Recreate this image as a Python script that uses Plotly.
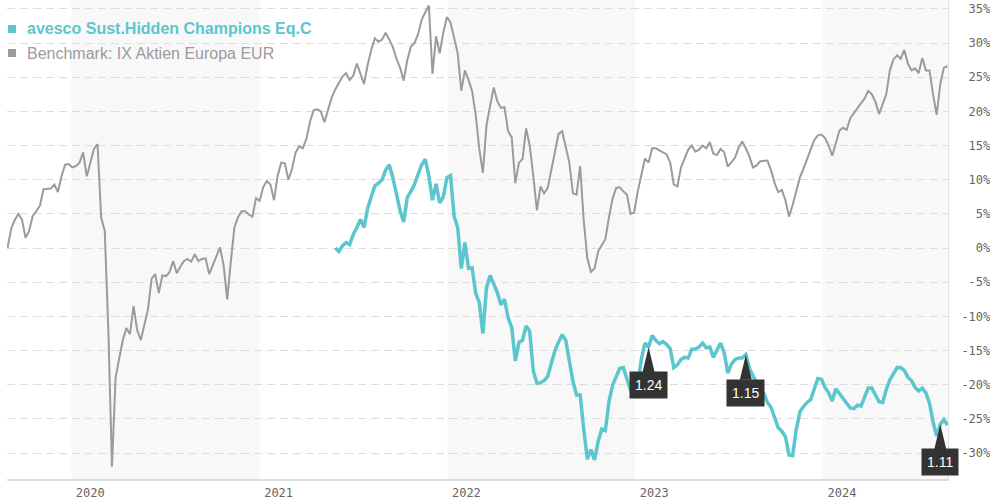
import plotly.graph_objects as go
import pandas as pd

# ---------------- data (weekly, % performance) ----------------
bench_start = "2019-08-30"
benchmark = [
    0, 2.8, 4.1, 5, 4.2, 1.5, 2.5, 4.7, 5.4, 6.2,
    8.6, 8.6, 8.7, 9.3, 8.2, 10.5, 12.2, 12.3, 11.8, 12,
    12.5, 14, 10.5, 12.5, 14.5, 15.2, 4.5, 2.5, -12, -32,
    -19, -16.2, -13.5, -11.7, -12.6, -8.5, -12, -13.5, -11.3, -9,
    -4.5, -3.8, -6.6, -4, -4.1, -3.5, -1.9, -3.7, -2.7, -1.9,
    -1.6, -2, -0.9, -1.9, -1.6, -1.5, -3.8, -2.4, -1, 0.1,
    -2.5, -7.5, -2, 3, 4.5, 5.4, 5.4, 4.9, 4.6, 7.3,
    6.9, 8.9, 9.8, 9.3, 7, 10.6, 12.5, 12.4, 10, 11.6,
    14, 14.9, 14.6, 16, 18.5, 20.2, 20.3, 20, 18.4, 20.3,
    22, 23.2, 24.2, 25.1, 25.6, 24.6, 25.2, 27, 25.5, 24,
    26.8, 29, 30.7, 30.2, 30.5, 31.5, 30.5, 29.4, 27.7, 26.4,
    24.5, 27.5, 29.5, 30, 31.3, 33.4, 34.5, 35.5, 25.5, 31,
    28.5, 31.5, 33.8, 33, 30.8, 28.5, 23, 26, 24.6, 23,
    19.5, 14.5, 11, 18, 20.8, 23.5, 21.5, 20.5, 20.6, 17.1,
    16.2, 9.5, 12.5, 13, 17.5, 15, 10.5, 5.5, 9, 8,
    8.8, 11.5, 14, 16.7, 17.1, 15, 12.5, 8, 7.8, 12,
    4, -1.5, -3.5, -3, -0.5, 0.4, 1.3, 4.5, 7.2, 8.8,
    8.9, 8.3, 7.8, 5, 5.2, 8.3, 10.7, 13.1, 12.5, 14.6,
    14.6, 14.3, 13.9, 13.7, 12.5, 9.3, 9, 11.8, 13.1, 14.4,
    15, 14.1, 14.4, 15, 14.6, 15.5, 13.8, 13.6, 14.5, 14,
    11.9, 12.5, 13.2, 14.7, 15.6, 14.6, 13.4, 11.8, 12.1, 12.7,
    12.7, 12.8, 11.4, 9.5, 8.2, 8.5, 7, 4.6, 6.3, 8.5,
    10.3, 11.6, 13.1, 14.5, 15.8, 16.5, 16.6, 16.1, 15, 13.5,
    15.5, 17.2, 17.6, 17.3, 19, 19.8, 20.4, 21.2, 21.9, 23,
    22.5, 21.4, 19.6, 21.1, 22.5, 26, 27.6, 28.2, 27.7, 29,
    27, 26, 26.3, 25.6, 27.8, 26, 26, 22.5, 19.5, 24,
    26.4, 26.6,
]

fund_start = "2021-05-28"
fund = [
    0, -0.5, 0.3, 0.8, 0.5, 2, 3, 4.2, 3, 5.8,
    7.5, 9.1, 9.5, 10, 11.4, 12.2, 10.3, 7.7, 5.5, 3.8,
    7.4, 8.3, 9.3, 10.8, 12.2, 13, 10.5, 7, 9.4, 6.6,
    7.5, 10.3, 10.6, 4.7, 3, -3, 0.8, -3, -2.9, -6.6,
    -8, -12.5, -5.8, -4, -5.2, -6.5, -8.3, -7.5, -10.2, -11.6,
    -16.5, -13.8, -13.5, -11.4, -12.2, -18, -19.8, -19.7, -19.4, -18.8,
    -16.9, -15, -13.8, -12.7, -13.5, -16.7, -19.5, -21.5, -21.5, -26.5,
    -30.9, -29.5, -31, -28.3, -26.5, -26.7, -22.5, -20.1, -18.9, -17.6,
    -17.5, -19, -20.8, -21.3, -19.7, -16.3, -13.9, -14.5, -12.8, -13.5,
    -14, -13.7, -14.1, -14.7, -17.5, -17.1, -16.3, -16, -16.1, -14.8,
    -14.8, -14.5, -13.9, -14.6, -14.5, -16, -14.8, -13.9, -15.3, -18.3,
    -17, -16.3, -16.1, -16.1, -15.6, -17.6, -18.7, -19.9, -20.8, -21.3,
    -22.6, -23.3, -24.7, -26.3, -26.8, -27.6, -30.3, -30.4, -26.6, -24,
    -23.2, -22.6, -22.2, -20.6, -19.1, -19.2, -20.4, -21.2, -22.4, -20.6,
    -21.3, -22.1, -22.8, -23.4, -23.5, -23, -23.1, -21.8, -20.5, -20.5,
    -21.6, -22.5, -22.6, -20.7, -19.3, -18.3, -17.5, -17.5, -17.9, -18.9,
    -19.4, -20.4, -20.9, -20.5, -21.2, -22.7, -25.5, -27.5, -25.8, -25.1,
    -25.9,
]

div_dates = ["2023-01-27", "2023-08-04", "2024-08-16"]
div_amounts = ["1.24", "1.15", "1.11"]

fund_name = "avesco Sust.Hidden Champions Eq.C"
bench_name = "Benchmark: IX Aktien Europa EUR"
years = [2020, 2021, 2022, 2023, 2024]
y_ticks = [35, 30, 25, 20, 15, 10, 5, 0, -5, -10, -15, -20, -25, -30]

# ---------------- styles ----------------
FUND_C = "#5bc6cd"
BENCH_C = "#9b9b9b"
X_RANGE = ["2019-08-29", "2024-08-31"]
Y_RANGE = [-33.8, 36.3]

bench_dates = pd.date_range(bench_start, periods=len(benchmark), freq="7D")
fund_dates = pd.date_range(fund_start, periods=len(fund), freq="7D")
fund_s = pd.Series(fund, index=fund_dates)

fig = go.Figure()
fig.add_trace(go.Scatter(x=bench_dates, y=benchmark, mode="lines",
                         line=dict(color=BENCH_C, width=2), name=bench_name,
                         showlegend=False))
fig.add_trace(go.Scatter(x=fund_dates, y=fund, mode="lines",
                         line=dict(color=FUND_C, width=3.5), name=fund_name,
                         showlegend=False))

shapes = []
# alternating year bands
for yr in years[::2]:
    shapes.append(dict(type="rect", xref="x", yref="paper",
                       x0=f"{yr}-01-01", x1=min(f"{yr + 1}-01-01", X_RANGE[1]),
                       y0=0, y1=1, fillcolor="#f8f8f8", line=dict(width=0),
                       layer="below"))

annotations = []
# dividend markers
for d, amt in zip(div_dates, div_amounts):
    ts = pd.Timestamp(d)
    yv = float(fund_s.reindex([ts], method="nearest").iloc[0])
    shapes.append(dict(type="path", xref="x", yref="y",
                       xsizemode="pixel", ysizemode="pixel",
                       xanchor=d, yanchor=yv,
                       path="M0,0 L6,-25 L-6,-25 Z",
                       fillcolor="#333333", line=dict(width=0), layer="above"))
    annotations.append(dict(x=d, y=yv, xref="x", yref="y", text=amt,
                            showarrow=False, yshift=-38, xanchor="center",
                            yanchor="middle", bgcolor="#333333", borderpad=5,
                            font=dict(family="Liberation Sans, Arial", size=14,
                                      color="white")))

# legend (top-left)
legend_items = [(fund_name, FUND_C, "bold", 1 - 29 / 479),
                (bench_name, BENCH_C, "normal", 1 - 53 / 479)]
for name, col, wt, yp in legend_items:
    shapes.append(dict(type="rect", xref="paper", yref="paper",
                       xsizemode="pixel", ysizemode="pixel",
                       xanchor=0, yanchor=yp, x0=1, x1=9, y0=-4, y1=4,
                       fillcolor=col, line=dict(width=0), layer="above"))
    annotations.append(dict(x=0, y=yp, xref="paper", yref="paper", text=name,
                            showarrow=False, xanchor="left", yanchor="middle",
                            xshift=18,
                            font=dict(family="Liberation Sans, Arial", size=16,
                                      color=col, weight=wt)))

tick_text = [f"{v}%".rjust(4, "\u00a0") for v in y_ticks]

fig.update_layout(
    width=990, height=500,
    margin=dict(l=7, r=42, t=0, b=21),
    paper_bgcolor="white", plot_bgcolor="white",
    shapes=shapes, annotations=annotations,
    showlegend=False,
    xaxis=dict(type="date", range=X_RANGE,
               tickvals=[f"{y}-01-01" for y in years],
               ticktext=[str(y) for y in years],
               ticklabelshift=19, ticklabelstandoff=2,
               showgrid=False, zeroline=False,
               showline=True, linecolor="#dddddd", linewidth=2,
               tickfont=dict(family="DejaVu Sans Mono", size=12, color="#666666")),
    yaxis=dict(side="right", range=Y_RANGE,
               tickvals=y_ticks, ticktext=tick_text,
               ticklabelstandoff=10,
               showgrid=True, gridcolor="#dddddd", gridwidth=1,
               griddash="8px,5px", zeroline=False,
               showline=True, linecolor="#e2e2e2", linewidth=1,
               tickfont=dict(family="DejaVu Sans Mono", size=12, color="#666666")),
)

fig.write_html("out.html",
               config={"displayModeBar": False},
               post_script="document.body.style.margin='0';"
                           "document.body.style.overflow='hidden';")
